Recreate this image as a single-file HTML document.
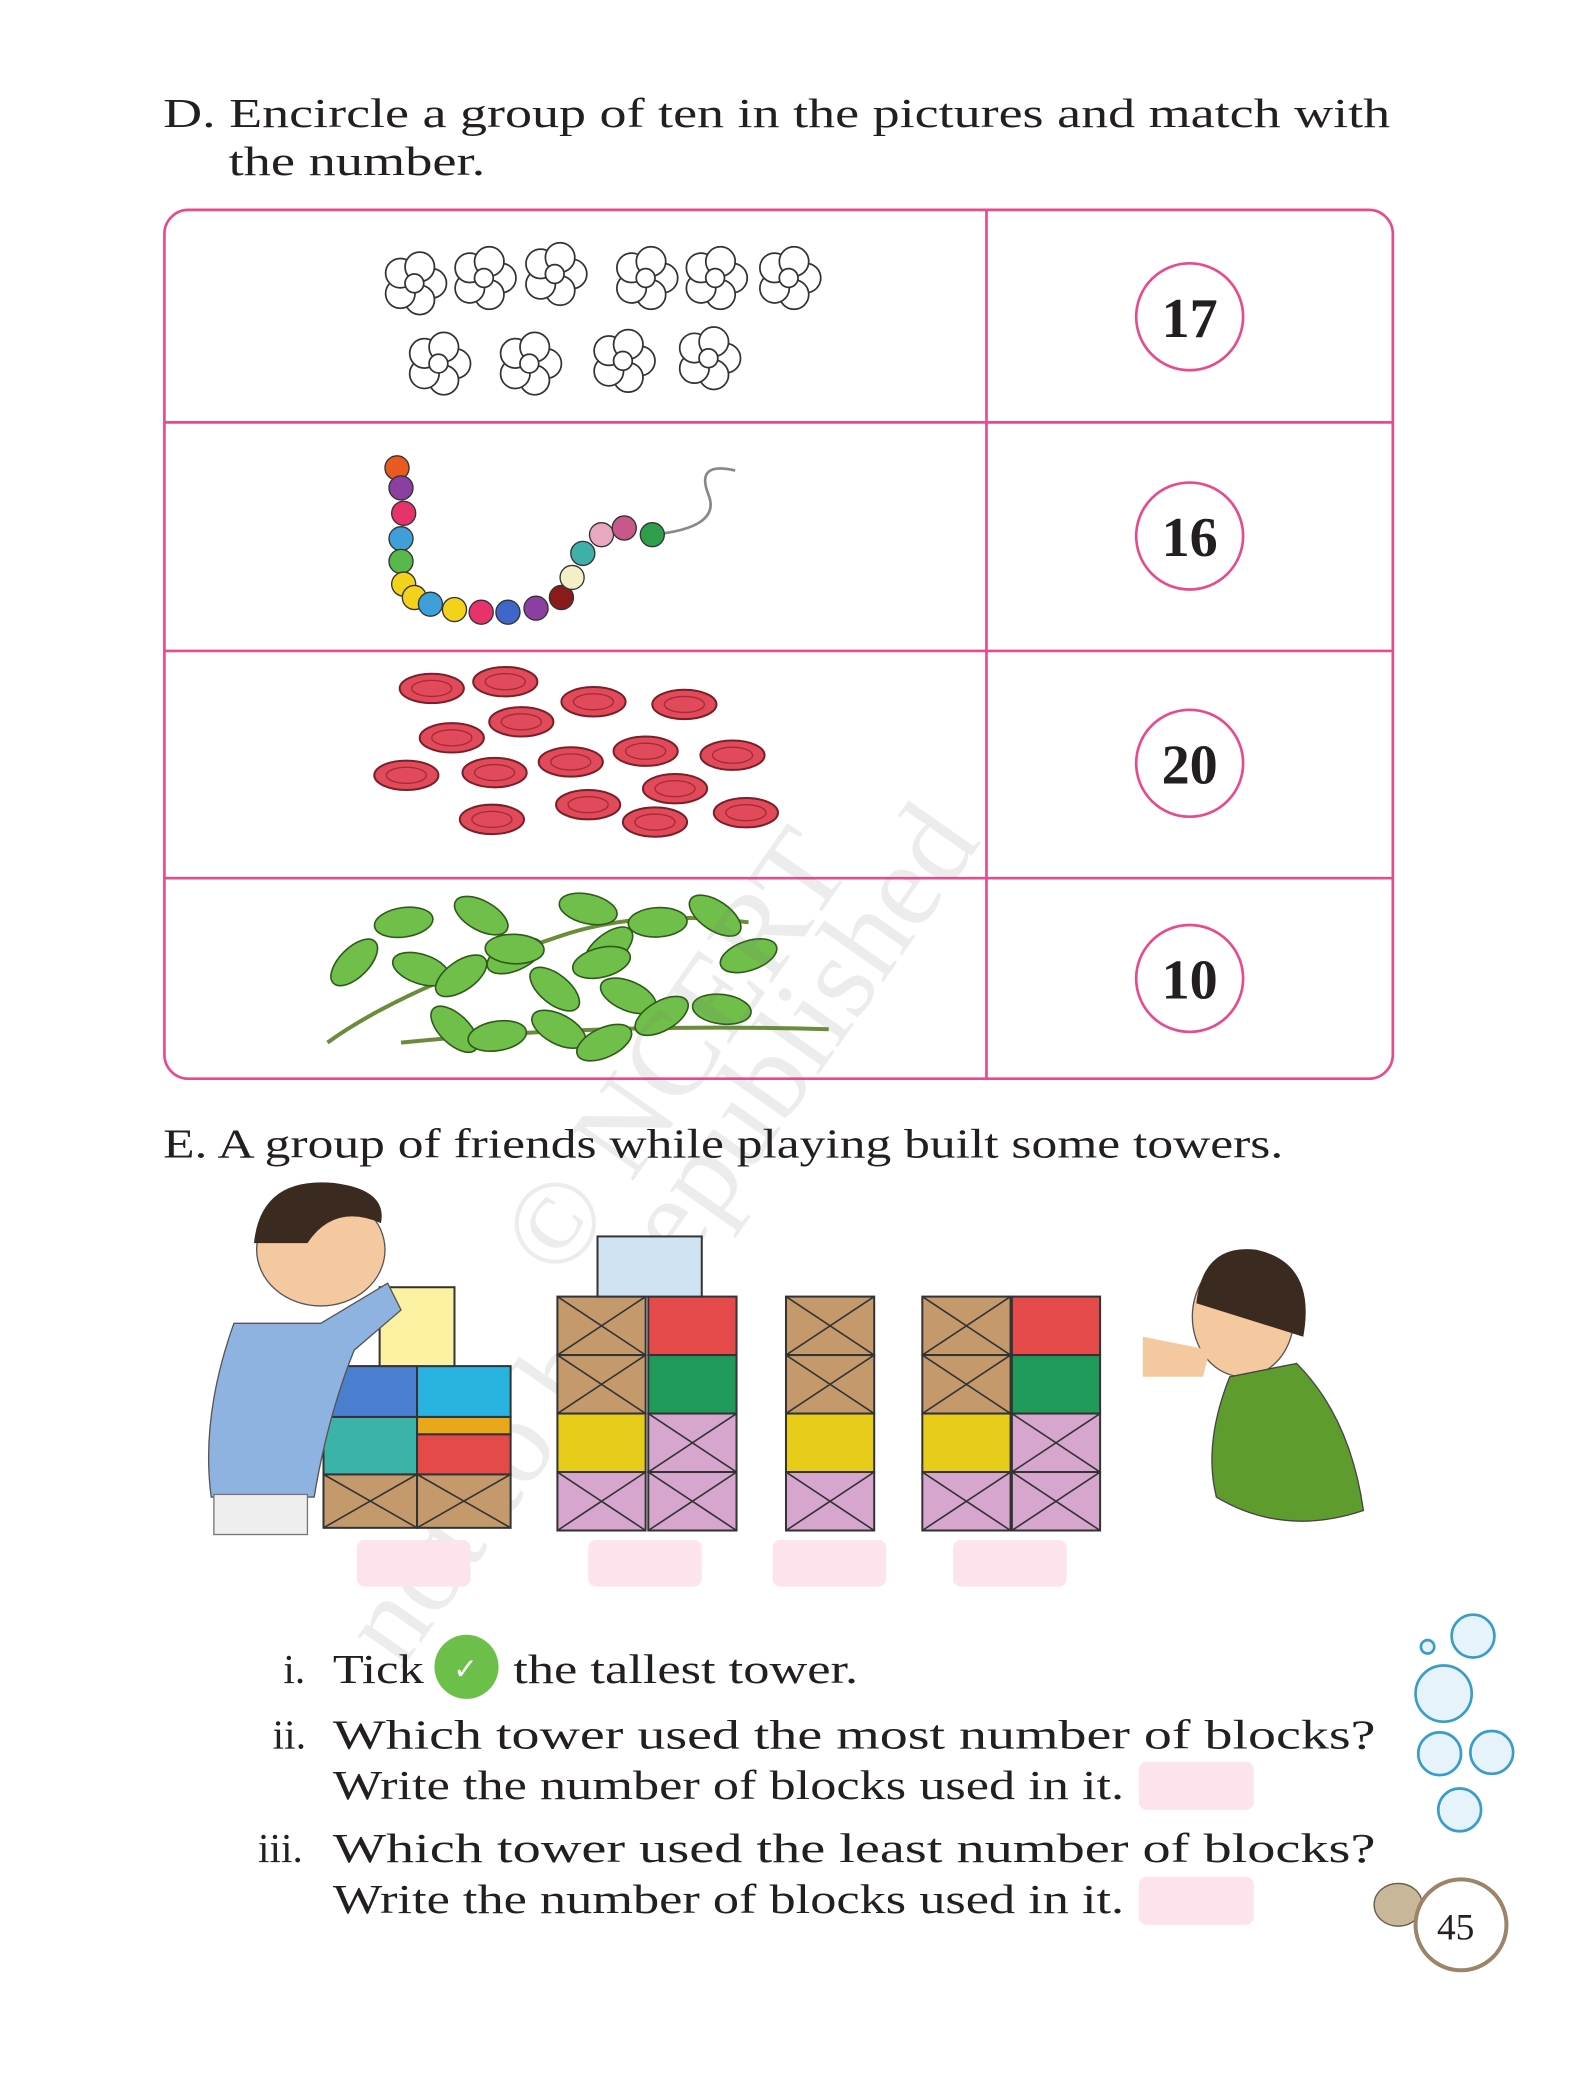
<!DOCTYPE html>
<html><head><meta charset="utf-8"><style>
html,body{margin:0;padding:0;background:#fff;}
svg{display:block;}
text{font-family:"Liberation Serif",serif;fill:#231f20;}
</style></head><body>
<svg width="1588" height="2097" viewBox="0 0 1188 1568.8" xmlns="http://www.w3.org/2000/svg">
<g>
<text x="122" y="95" font-size="31" textLength="918" lengthAdjust="spacingAndGlyphs">D. Encircle a group of ten in the pictures and match with</text>
<text x="171" y="131" font-size="31" textLength="192" lengthAdjust="spacingAndGlyphs">the number.</text>
</g>
<g fill="none" stroke="#e84a8e" stroke-width="2">
<rect x="123" y="157" width="919" height="650" rx="18"/>
<line x1="738" y1="157" x2="738" y2="807"/>
<line x1="123" y1="316" x2="1042" y2="316"/>
<line x1="123" y1="487" x2="1042" y2="487"/>
<line x1="123" y1="657" x2="1042" y2="657"/>
</g>
<g id="circles"></g>
<g id="flowers"></g>
<g id="beads"></g>
<g id="buttons"></g>
<g id="leaves"></g>
<g opacity="0.13">
<text x="0" y="0" font-size="90" font-family="Liberation Sans,sans-serif" transform="translate(420,960) rotate(-55)" style="fill:#777">© NCERT</text>
<text x="0" y="0" font-size="90" font-family="Liberation Sans,sans-serif" transform="translate(300,1250) rotate(-55)" style="fill:#777">not to be republished</text>
</g>
<text x="122" y="866" font-size="31" textLength="838" lengthAdjust="spacingAndGlyphs">E. A group of friends while playing built some towers.</text>
<g id="towers"></g>
<g>
<path d="M175 990 Q150 1060 158 1120 L235 1120 Q245 1060 265 1010 L300 980 L290 960 L240 990 Z" fill="#8fb3e0" stroke="#555"/>
<rect x="160" y="1118" width="70" height="30" fill="#eee" stroke="#777"/>
<ellipse cx="240" cy="935" rx="48" ry="42" fill="#f5c9a0" stroke="#555"/>
<path d="M190 930 Q195 880 250 885 Q290 890 285 915 Q250 900 230 930 Z" fill="#3b2a20"/>
</g>
<g>
<ellipse cx="930" cy="985" rx="38" ry="45" fill="#f5c9a0" stroke="#555"/>
<path d="M895 975 Q900 930 940 935 Q985 945 975 1000 Z" fill="#3b2a20"/>
<path d="M920 1030 Q900 1080 910 1120 Q960 1150 1020 1130 Q1010 1060 970 1020 Z" fill="#5f9c2e" stroke="#444"/>
<path d="M855 1000 L905 1010 L900 1030 L855 1030 Z" fill="#f5c9a0"/>
</g>
<g id="answerboxes"></g>
<g font-size="31">
<text x="212" y="1259">i.</text>
<text x="249" y="1259" textLength="68" lengthAdjust="spacingAndGlyphs">Tick</text>
<circle cx="349" cy="1247" r="24" fill="#6cc04a"/>
<text x="339" y="1256" font-size="22" style="fill:#fff">✓</text>
<text x="384" y="1259" textLength="258" lengthAdjust="spacingAndGlyphs">the tallest tower.</text>
<text x="204" y="1308">ii.</text>
<text x="249" y="1308" textLength="780" lengthAdjust="spacingAndGlyphs">Which tower used the most number of blocks?</text>
<text x="249" y="1346" textLength="592" lengthAdjust="spacingAndGlyphs">Write the number of blocks used in it.</text>
<text x="193" y="1393">iii.</text>
<text x="249" y="1393" textLength="780" lengthAdjust="spacingAndGlyphs">Which tower used the least number of blocks?</text>
<text x="249" y="1431" textLength="592" lengthAdjust="spacingAndGlyphs">Write the number of blocks used in it.</text>
<rect x="852" y="1318" width="86" height="36" rx="6" fill="#fde4ec"/>
<rect x="852" y="1404" width="86" height="36" rx="6" fill="#fde4ec"/>
</g>
<g fill="#e6f3fa" stroke="#3a9cc8" stroke-width="2">
<circle cx="1102" cy="1224" r="16"/><circle cx="1068" cy="1232" r="5"/>
<circle cx="1080" cy="1267" r="21"/><circle cx="1077" cy="1312" r="16"/>
<circle cx="1116" cy="1311" r="16"/><circle cx="1092" cy="1354" r="16"/>
</g>
<g>
<ellipse cx="1046" cy="1425" rx="18" ry="16" fill="#c9b79a" stroke="#6b5a45"/>
<circle cx="1093" cy="1440" r="34" fill="#fff" stroke="#9b8468" stroke-width="3"/>
<text x="1075" y="1451" font-size="28">45</text>
</g>
<script>
var ns="http://www.w3.org/2000/svg";
function mk(t,a,p){var e=document.createElementNS(ns,t);for(var k in a)e.setAttribute(k,a[k]);p.appendChild(e);return e;}
var numbers=["17","16","20","10"];
var rowCenters=[237,401,571,732];
var cg=document.getElementById("circles");
numbers.forEach(function(n,i){
 var g=mk("g",{},cg);
 
 
 mk("circle",{cx:890,cy:rowCenters[i],r:40,fill:"#fff",stroke:"#e84a8e","stroke-width":2},g);
 var t=mk("text",{x:890,y:rowCenters[i]+15,"font-size":42,"font-weight":"bold","text-anchor":"middle"},g);t.textContent=n;
});
var flowerX=[310,362,415,483,535,590,328,396,466,530];
var flowerY=[212,208,205,208,208,208,272,272,270,268];
var fg=document.getElementById("flowers");
flowerX.forEach(function(x,i){
 var y=flowerY[i];
 for(var k=0;k<5;k++){var a=k*72*Math.PI/180;mk("circle",{cx:x+13*Math.cos(a),cy:y+13*Math.sin(a),r:11,fill:"#fff",stroke:"#333","stroke-width":1.3},fg);}
 mk("circle",{cx:x,cy:y,r:7,fill:"#fff",stroke:"#333","stroke-width":1.3},fg);
});
var beadX=[297,300,302,300,300,302,310,322,340,360,380,401,420,428,436,450,467,488];
var beadY=[350,365,384,403,420,437,447,452,456,458,458,455,447,432,414,400,395,400];
var beadC=["#e85a1f","#8b3fa0","#e8336a","#3f9fd8","#58b84a","#f2d21a","#f2d21a","#3f9fd8","#f2d21a","#e8336a","#3f66c9","#8b3fa0","#8b1a1a","#f5efc8","#3fb0a8","#e8a8c0","#c8578a","#2e9e4a"];
var bg=document.getElementById("beads");
mk("path",{d:"M488 400 Q540 395 530 370 Q520 345 550 352",fill:"none",stroke:"#888","stroke-width":2},bg);
beadX.forEach(function(x,i){mk("circle",{cx:x,cy:beadY[i],r:9,fill:beadC[i],stroke:"#333","stroke-width":1},bg);});
var btnX=[323,378,444,512,338,390,304,370,427,483,548,505,440,368,490,558];
var btnY=[515,510,525,527,552,540,580,578,570,562,565,590,602,613,615,608];
var ug=document.getElementById("buttons");
btnX.forEach(function(x,i){mk("ellipse",{cx:x,cy:btnY[i],rx:24,ry:11,fill:"#e04a5a",stroke:"#7a1f28","stroke-width":1.5},ug);mk("ellipse",{cx:x,cy:btnY[i],rx:15,ry:6,fill:"none",stroke:"#a52a36","stroke-width":1},ug);});
var leafX=[265,302,360,385,440,455,492,535,560,315,345,385,415,450,470,495,540,340,372,418,452];
var leafY=[720,690,685,715,680,710,690,685,715,725,730,710,740,720,745,760,755,770,775,770,780];
var lg=document.getElementById("leaves");
mk("path",{d:"M245 780 Q300 740 420 700 Q480 680 560 690",fill:"none",stroke:"#6b8c3a","stroke-width":3},lg);
mk("path",{d:"M300 780 Q450 765 620 770",fill:"none",stroke:"#6b8c3a","stroke-width":3},lg);
leafX.forEach(function(x,i){mk("ellipse",{cx:x,cy:leafY[i],rx:22,ry:11,fill:"#6fbf4a",stroke:"#2e5a1a","stroke-width":1.2,transform:"rotate("+((i*37)%90-45)+" "+x+" "+leafY[i]+")"},lg);});
var tg=document.getElementById("towers");
function box(x,y,w,h,c,env){mk("rect",{x:x,y:y,width:w,height:h,fill:c,stroke:"#333","stroke-width":1.5},tg);if(env){mk("path",{d:"M"+x+" "+y+" L"+(x+w/2)+" "+(y+h/2)+" L"+(x+w)+" "+y+" M"+x+" "+(y+h)+" L"+(x+w/2)+" "+(y+h/2)+" L"+(x+w)+" "+(y+h),fill:"none",stroke:"#333","stroke-width":1.2},tg);}}
var B="#c49a6c",P="#d7a6cf",Y="#e8cc1a",R="#e54a4a",G="#1f9a5a";
var cols=[[417,[B,B,Y,P]],[485,[R,G,P,P]],[588,[B,B,Y,P]],[690,[B,B,Y,P]],[757,[R,G,P,P]]];
cols.forEach(function(c){c[1].forEach(function(col,j){box(c[0],970+j*43.75,66,43.75,col,col==B||col==P);});});
box(447,925,78,45,"#cfe3f2",false);
box(242,1103,70,40,B,true);box(312,1103,70,40,B,true);
box(242,1060,70,43,"#3bb3a8",false);box(312,1073,70,30,R,false);box(312,1060,70,13,"#e8a81a",false);
box(242,1022,70,38,"#4a7fd0",false);box(312,1022,70,38,"#29b3e0",false);
box(284,963,56,59,"#fbf1a0",false);
var ag=document.getElementById("answerboxes");
[267,440,578,713].forEach(function(x,i){var r=mk("rect",{x:x,y:1152,width:85,height:35,rx:6,fill:"#fde4ec"},ag);

});
</script>
</svg>
</body></html>
